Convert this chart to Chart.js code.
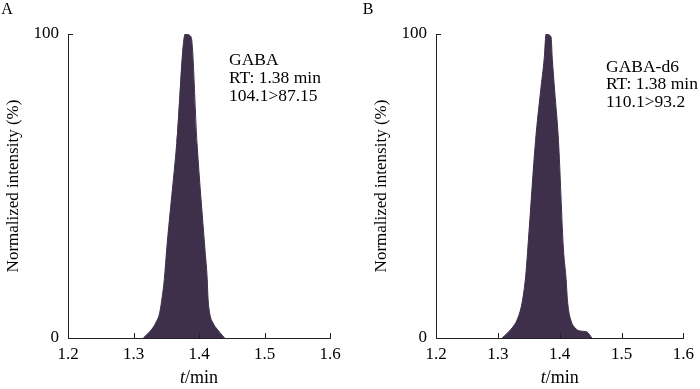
<!DOCTYPE html>
<html>
<head>
<meta charset="utf-8">
<script src="https://cdn.jsdelivr.net/npm/chart.js@4.4.0/dist/chart.umd.min.js"></script>
<style>
html, body { margin: 0; padding: 0; background: #fff; overflow: hidden; }
#wrap { position: relative; width: 700px; height: 389px; }
.panel { position: absolute; top: 0; width: 350px; height: 389px; }
</style>
</head>
<body>
<div id="wrap">
  <div class="panel" style="left:0"><canvas id="chartA" width="350" height="389"></canvas></div>
  <div class="panel" style="left:350px"><canvas id="chartB" width="350" height="389"></canvas></div>
</div>
<script>
// values: t (min) and normalized intensity (%)
const xTicks = [1.2, 1.3, 1.4, 1.5, 1.6];
const yTicks = [0, 100];

const timeA = [1.315, 1.328, 1.334, 1.340, 1.344, 1.347, 1.351, 1.366, 1.379, 1.388, 1.397, 1.409, 1.4126, 1.4136, 1.4162, 1.4212, 1.4277, 1.439];
const intensityA = [0, 2.9, 5, 8.3, 13.8, 19.2, 30, 64, 100, 99, 64, 29.4, 19.2, 13.8, 8.3, 5, 2.9, 0];

const timeB = [1.307, 1.323, 1.331, 1.339, 1.345, 1.349, 1.361, 1.369, 1.375, 1.378, 1.386, 1.388, 1.392, 1.398, 1.406, 1.410, 1.413, 1.418, 1.425, 1.433, 1.444, 1.452];
const intensityB = [0, 3.3, 5.9, 11.4, 20.3, 31, 65, 81, 92, 100, 99, 92, 81, 65, 29.4, 20.3, 11.4, 5.9, 3.3, 2.3, 2, 0];

const labelsA = ['GABA', 'RT: 1.38 min', '104.1>87.15'];
const labelsB = ['GABA-d6', 'RT: 1.38 min', '110.1>93.2'];

const serif = "'Liberation Serif', 'Times New Roman', serif";
const fillColor = '#3e2f4b';
const axisColor = '#222';

// ticks pointing inward, italic axis title, panel letter and peak label
const panelText = {
    id: 'panelText',
    afterDraw(chart, args, opts) {
        const {ctx, chartArea, scales: {x, y}} = chart;
        ctx.save();
        ctx.strokeStyle = axisColor;
        ctx.lineWidth = 1;
        ctx.beginPath();
        x.ticks.forEach(t => {
            if (t.value === x.min) return;
            const px = Math.round(x.getPixelForValue(t.value)) + 0.5;
            ctx.moveTo(px, chartArea.bottom);
            ctx.lineTo(px, chartArea.bottom - 5);
        });
        y.ticks.forEach(t => {
            if (t.value === y.min) return;
            const py = Math.round(y.getPixelForValue(t.value)) + 0.5;
            ctx.moveTo(chartArea.left, py);
            ctx.lineTo(chartArea.left + 5, py);
        });
        ctx.stroke();

        ctx.fillStyle = '#000';
        ctx.textBaseline = 'middle';

        // x title: italic t + /min
        const cx = (chartArea.left + chartArea.right) / 2;
        ctx.font = 'italic 18px ' + serif;
        const w1 = ctx.measureText('t').width;
        ctx.font = '18px ' + serif;
        const w2 = ctx.measureText('/min').width;
        const sx = cx - (w1 + w2) / 2;
        ctx.textAlign = 'left';
        ctx.font = 'italic 18px ' + serif;
        ctx.fillText('t', sx, opts.titleY);
        ctx.font = '18px ' + serif;
        ctx.fillText('/min', sx + w1, opts.titleY);

        // panel letter
        ctx.font = '16px ' + serif;
        ctx.textAlign = 'center';
        ctx.fillText(opts.letter, opts.letterX, 10);

        // peak label
        ctx.textAlign = 'left';
        ctx.font = '17.5px ' + serif;
        opts.lines.forEach((line, i) => {
            ctx.fillText(line, chartArea.left + opts.dx, chartArea.top + opts.dy + i * opts.gap);
        });
        ctx.restore();
    }
};

function makeChart(id, times, values, cfg) {
    const ctx = document.getElementById(id).getContext('2d');
    return new Chart(ctx, {
        type: 'line',
        data: {
            datasets: [{
                data: times.map((t, i) => ({x: t, y: values[i]})),
                borderColor: fillColor,
                backgroundColor: fillColor,
                borderWidth: 1,
                pointRadius: 0,
                fill: 'origin',
                cubicInterpolationMode: 'monotone'
            }]
        },
        options: {
            responsive: false,
            animation: false,
            layout: {
                padding: {top: 34, left: cfg.padLeft, right: cfg.padRight, bottom: 0}
            },
            plugins: {
                legend: {display: false},
                tooltip: {enabled: false},
                panelText: {
                    letter: cfg.letter,
                    letterX: cfg.letterX,
                    lines: cfg.lines,
                    dx: cfg.dx,
                    dy: cfg.dy,
                    gap: cfg.gap,
                    titleY: 378
                }
            },
            scales: {
                x: {
                    type: 'linear',
                    min: 1.2,
                    max: 1.6,
                    afterBuildTicks: scale => { scale.ticks = xTicks.map(v => ({value: v})); },
                    afterFit: scale => { scale.height = 51; },
                    grid: {display: false, drawTicks: false},
                    border: {display: true, color: axisColor, width: 1},
                    ticks: {
                        padding: 6,
                        color: '#000',
                        font: {family: serif, size: 17},
                        callback: v => v.toFixed(1)
                    }
                },
                y: {
                    min: 0,
                    max: 100,
                    afterBuildTicks: scale => { scale.ticks = yTicks.map(v => ({value: v})); },
                    afterFit: scale => { scale.width = 68; },
                    grid: {display: false, drawTicks: false},
                    border: {display: true, color: axisColor, width: 1},
                    ticks: {
                        padding: 9,
                        color: '#000',
                        font: {family: serif, size: 17}
                    },
                    title: {
                        display: true,
                        text: 'Normalized intensity (%)',
                        color: '#000',
                        font: {family: serif, size: 17},
                        padding: {top: 3, bottom: 4}
                    }
                }
            }
        },
        plugins: [panelText]
    });
}

makeChart('chartA', timeA, intensityA, {
    letter: 'A', letterX: 7, lines: labelsA,
    padLeft: 0, padRight: 20, dx: 161, dy: 26, gap: 18
});

makeChart('chartB', timeB, intensityB, {
    letter: 'B', letterX: 18, lines: labelsB,
    padLeft: 18, padRight: 12, dx: 170, dy: 33, gap: 17.5
});
</script>
</body>
</html>
